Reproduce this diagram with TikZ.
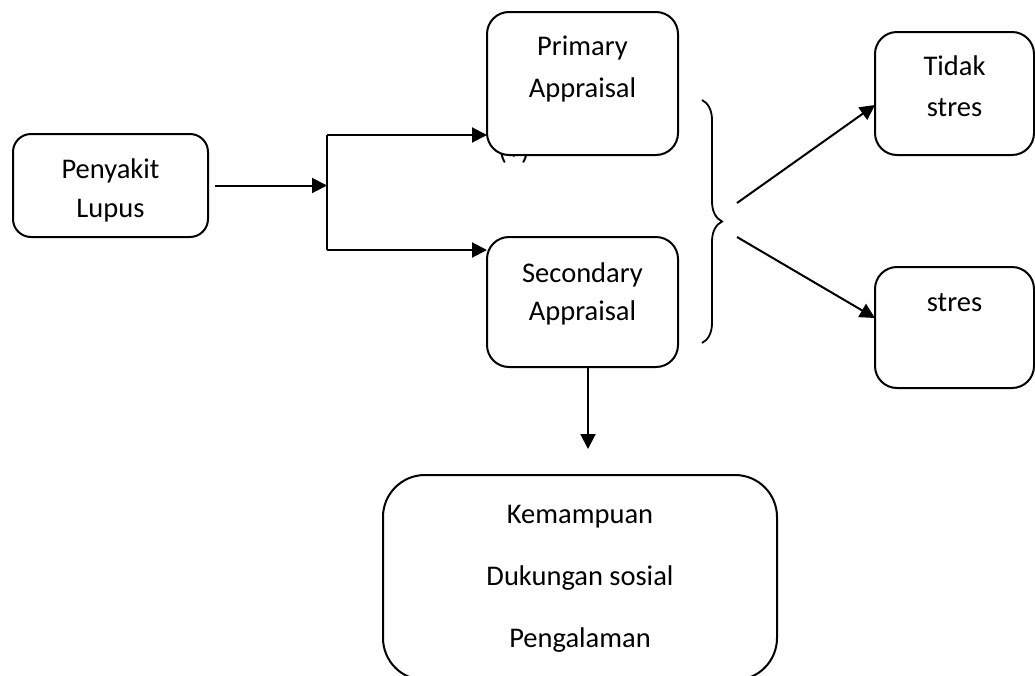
\documentclass[tikz,border=0pt]{standalone}
\usepackage{fontspec}
\setmainfont{Carlito}
\usetikzlibrary{arrows.meta,decorations.pathreplacing}
\begin{document}
\begin{tikzpicture}[x=1pt,y=-1pt,
  box/.style={draw=black,line width=2pt,fill=white,rounded corners=#1,inner sep=0pt,outer sep=0pt},
  box/.default=22pt,
  lbl/.style={anchor=base,inner sep=0pt,font=\fontsize{28.5}{34}\selectfont},
  conn/.style={line width=2pt},
  arr/.style={line width=2pt,-{Triangle[length=15pt,width=15pt]}}
]
\useasboundingbox (0,0) rectangle (1035,675);
\clip (0,0) rectangle (1035,675);
% hidden label under the primary box
\node[lbl] (plus) at (514,159) {(+)};
% boxes
\node[box=18pt,minimum width=195pt,minimum height=103pt] (lupus) at (110.5,185.5) {};
\node[box,minimum width=191pt,minimum height=143pt] (primary) at (582.5,83.5) {};
\node[box,minimum width=191pt,minimum height=130pt] (secondary) at (582.5,302) {};
\node[box,minimum width=159pt,minimum height=123pt] (tidak) at (954.5,93.5) {};
\node[box,minimum width=159pt,minimum height=121pt] (stres) at (954.5,327.5) {};
\node[box=42pt,minimum width=394pt,minimum height=205pt] (faktor) at (580,577.5) {};
% texts
\node[lbl] (t1) at (110.5,178) {Penyakit};
\node[lbl] (t2) at (110.5,217) {Lupus};
\node[lbl] (t3) at (582.5,55) {Primary};
\node[lbl] (t4) at (582.5,97) {Appraisal};
\node[lbl] (t5) at (582.5,282) {Secondary};
\node[lbl] (t6) at (582.5,320) {Appraisal};
\node[lbl] (t7) at (954.5,75) {Tidak};
\node[lbl] (t8) at (954.5,116) {stres};
\node[lbl] (t9) at (954.5,311) {stres};
\node[lbl] (t10) at (580,523) {Kemampuan};
\node[lbl] (t11) at (580,585) {Dukungan sosial};
\node[lbl] (t12) at (580,647) {Pengalaman};
% connectors
\coordinate (j) at (327,185.5);
\coordinate (jt) at (327,135);
\coordinate (jb) at (327,250);
\draw[arr] ([xshift=7pt]lupus.east) -- (j);
\draw[conn] (jt) -- (jb);
\draw[arr] (jt) -- (jt -| primary.west);
\draw[arr] (jb) -- (jb -| secondary.west);
% brace
\coordinate (bt) at (702,100);
\coordinate (bb) at (702,343);
\draw[line width=1.8pt,decorate,decoration={brace,amplitude=20pt}] (bt) -- (bb);
\coordinate (b1) at (737,203);
\coordinate (b2) at (737,237);
\draw[arr] (b1) -- ([yshift=-11.5pt]tidak.west);
\draw[arr] (b2) -- ([yshift=9.5pt]stres.west);
% down arrow
\coordinate (dtip) at (588,449);
\draw[arr] ([xshift=5.5pt]secondary.south) -- (dtip);
\end{tikzpicture}
\end{document}
